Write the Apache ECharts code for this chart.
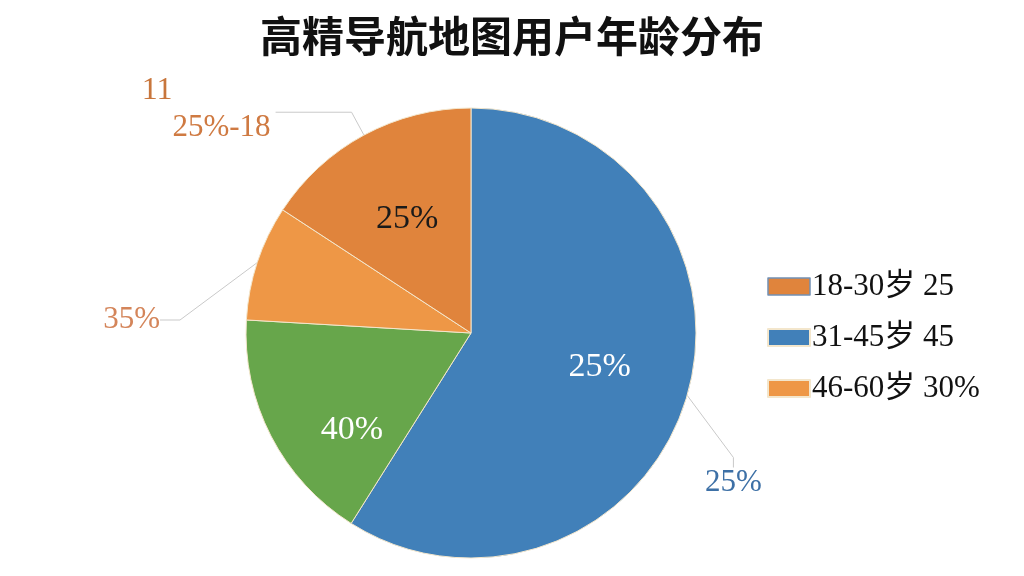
<!DOCTYPE html>
<html>
<head>
<meta charset="utf-8">
<title>高精导航地图用户年龄分布</title>
<script src="https://cdn.jsdelivr.net/npm/echarts@6/dist/echarts.min.js"></script>
<style>
  html, body { margin: 0; padding: 0; background: #fff; }
  #chart { width: 1024px; height: 576px; }
</style>
</head>
<body>
<div id="chart"></div>
<script>
// slices clockwise from 12 o'clock
var sliceNames = ['31-45岁 45', '其他', '46-60岁 30%', '18-30岁 25'];
var sliceValues = [59, 17, 8.3, 15.8];
var sliceColors = ['#4180b9', '#67a64b', '#ee9746', '#e0843c'];
// labels printed on the picture (they don't match the slice sizes)
var innerLabels = ['25%', '40%', '', '25%'];
var outerLabels = ['25%', '', '35%', '{a|11}\n{b|25%-18}'];
var legendNames = ['18-30岁 25', '31-45岁 45', '46-60岁 30%'];

var serif = "'Liberation Serif', 'Noto Sans CJK SC', serif";

var innerColors = ['#ffffff', '#ffffff', '#ffffff', '#1a1a1a'];
var innerShiftY = [-3, 36, 0, 4];
var outerColors = ['#3d70a6', '#999', '#d4855a', '#cf7a42'];
var outerLines = [
  { length: 40, length2: 10 },
  { length: 10, length2: 10 },
  { length: 40, length2: 20 },
  { length: 26, length2: 76 }
];
// two outer labels sit away from their slice in the picture
var outerSpots = [[705, 483, 'left'], null, [160, 320, 'right'], null];

const chart = echarts.init(document.getElementById('chart'));

var mainData = sliceNames.map(function (name, i) {
  return {
    name: name,
    value: sliceValues[i],
    itemStyle: { color: sliceColors[i] },
    label: {
      show: outerLabels[i] !== '',
      color: outerColors[i]
    },
    labelLine: {
      show: outerLabels[i] !== '',
      length: outerLines[i].length,
      length2: outerLines[i].length2
    }
  };
});

var innerData = sliceNames.map(function (name, i) {
  return {
    name: name,
    value: sliceValues[i],
    label: { show: innerLabels[i] !== '', color: innerColors[i] }
  };
});

var legendData = legendNames.map(function (name, i) {
  // the first key has a thin bluish frame in the picture
  return i === 0 ? { name: name, itemStyle: { borderColor: '#7190b4', borderWidth: 1.5 } } : { name: name };
});

let option = {
  animation: false,
  title: {
    text: '高精导航地图用户年龄分布',
    left: 'center',
    top: 10,
    textStyle: {
      fontFamily: "'Noto Sans CJK SC', sans-serif",
      fontSize: 42,
      fontWeight: 'bold',
      color: '#111'
    }
  },
  legend: {
    data: legendData,
    orient: 'vertical',
    left: 762,
    top: 266,
    itemWidth: 42,
    itemHeight: 17,
    itemGap: 20,
    icon: 'rect',
    selectedMode: false,
    textStyle: {
      fontFamily: serif,
      fontSize: 31,
      color: '#111',
      padding: [0, 0, 0, -3]
    }
  },
  series: [
    {
      type: 'pie',
      center: [471, 333],
      radius: 225,
      startAngle: 90,
      clockwise: true,
      silent: true,
      avoidLabelOverlap: false,
      itemStyle: { borderColor: '#f3e6cc', borderWidth: 1 },
      label: {
        position: 'outside',
        fontFamily: serif,
        fontSize: 31,
        formatter: function (p) { return outerLabels[p.dataIndex]; },
        rich: {
          a: { fontFamily: serif, fontSize: 32, color: '#c8763c', lineHeight: 43, padding: [0, 98, 0, 0] },
          b: { fontFamily: serif, fontSize: 31, color: '#cf7a42', lineHeight: 43, padding: [0, 0, 12, 0] }
        }
      },
      labelLine: { lineStyle: { color: '#c9c9c9', width: 1 } },
      labelLayout: function (p) {
        var s = outerSpots[p.dataIndex];
        if (!s) return {};
        return { x: s[0], y: s[1], align: s[2], verticalAlign: 'middle' };
      },
      data: mainData
    },
    {
      // transparent copy, only to hold the labels inside the slices
      type: 'pie',
      center: [471, 333],
      radius: 262,
      startAngle: 90,
      clockwise: true,
      silent: true,
      itemStyle: { color: 'rgba(0,0,0,0)' },
      label: {
        position: 'inside',
        fontFamily: serif,
        fontSize: 34,
        formatter: function (p) { return innerLabels[p.dataIndex]; }
      },
      labelLine: { show: false },
      labelLayout: function (p) {
        return { dy: innerShiftY[p.dataIndex] };
      },
      data: innerData
    }
  ]
};

chart.setOption(option);
</script>
</body>
</html>
